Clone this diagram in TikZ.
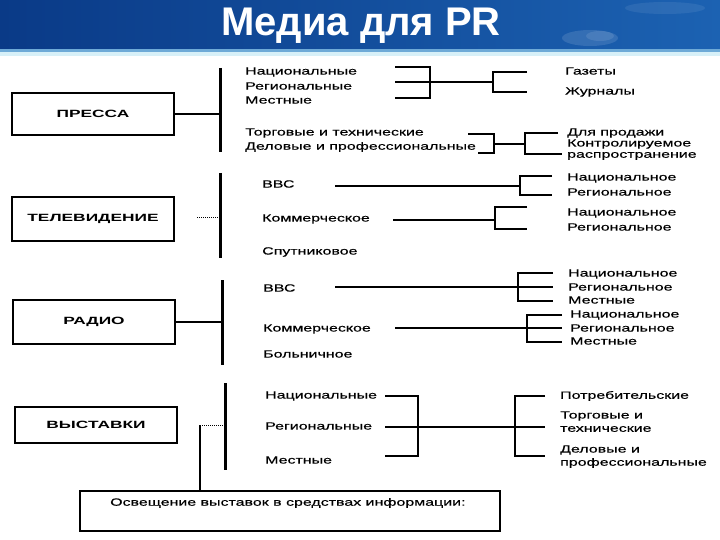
\documentclass[tikz,border=0pt]{standalone}
\usepackage{fontspec}
\setmainfont{Liberation Sans}
\newfontfamily\wf[FakeStretch=1.52,FakeBold=0.4]{Liberation Sans}
\newfontfamily\bwf[FakeStretch=1.65,UprightFont={* Bold}]{Liberation Sans}
\newfontfamily\ttlfont[UprightFont={* Bold}]{Liberation Sans}
\definecolor{bandL}{RGB}{10,58,135}
\definecolor{bandR}{RGB}{28,98,178}
\definecolor{bandLine}{RGB}{110,170,215}
\definecolor{paleCyan}{RGB}{215,240,248}
\tikzset{
  mid/.style={anchor=west, inner sep=0pt, font=\wf\fontsize{10.5}{12}\selectfont},
  sect/.style={draw, line width=1.3pt, minimum width=162pt, inner sep=0pt, font=\bwf\fontsize{10.5}{12}\selectfont},
  bar/.style={line width=3pt},
  ln/.style={line width=1.3pt},
  dotln/.style={line width=1pt, densely dotted}
}
\begin{document}
\begin{tikzpicture}[x=1pt,y=-1pt]
\useasboundingbox (0,0) rectangle (720,540);
\fill[white] (0,0) rectangle (720,540);
% banner
\shade[left color=bandL, right color=bandR] (0,0) rectangle (720,51);
\fill[white, opacity=0.12] (590,38) ellipse (28 and 8);
\fill[white, opacity=0.10] (600,36) ellipse (14 and 5);
\fill[white, opacity=0.08] (665,8) ellipse (40 and 6);
\fill[bandLine] (0,49) rectangle (720,52);
\fill[paleCyan] (0,52) rectangle (720,56);
\node[text=white, font=\ttlfont\fontsize{40}{42}\selectfont, inner sep=0pt] (title) at (361,26) {Медиа для PR};

% ---------- PRESS ----------
\node[sect, minimum height=42pt] (press) at (93,114) {ПРЕССА};
\coordinate (pb1) at (220,68); \coordinate (pb2) at (220,152);
\draw[bar] (pb1) -- (pb2);
\coordinate (pj) at (220,114);
\draw[ln] (press.east) -- (pj);
\node[mid] (p1) at (245,72) {Национальные};
\node[mid] (p2) at (245,86) {Региональные};
\node[mid] (p3) at (245,100) {Местные};
\node[mid] (p4) at (245,133) {Торговые и технические};
\node[mid] (p5) at (245,147) {Деловые и профессиональные};
\node[mid] (g1) at (565,71) {Газеты};
\node[mid] (g2) at (565,92) {Журналы};
\node[mid] (s1) at (567,133) {Для продажи};
\node[mid] (s2) at (567,144) {Контролируемое};
\node[mid] (s3) at (567,156) {распространение};
% group 1
\coordinate (a1) at (395,67); \coordinate (a2) at (395,82); \coordinate (a3) at (395,98);
\coordinate (A1) at (430,67); \coordinate (A2) at (430,82); \coordinate (A3) at (430,98);
\coordinate (B) at (493,82); \coordinate (B1) at (493,72); \coordinate (B2) at (493,92);
\coordinate (b1) at (527,72); \coordinate (b2) at (527,92);
\draw[ln] (a1) -- (A1) -- (A3) -- (a3);
\draw[ln] (a2) -- (A2) -- (B);
\draw[ln] (b1) -- (B1) -- (B2) -- (b2);
% group 2
\coordinate (c1) at (468,134); \coordinate (c2) at (478,153);
\coordinate (C1) at (494,134); \coordinate (C2) at (494,153); \coordinate (C) at (494,144);
\coordinate (D) at (525,144); \coordinate (D1) at (525,133); \coordinate (D2) at (525,154);
\coordinate (d1) at (558,133); \coordinate (d2) at (562,154);
\draw[ln] (c1) -- (C1) -- (C2) -- (c2);
\draw[ln] (C) -- (D);
\draw[ln] (d1) -- (D1) -- (D2) -- (d2);

% ---------- TV ----------
\node[sect, minimum height=44pt] (tv) at (93,219) {ТЕЛЕВИДЕНИЕ};
\coordinate (tb1) at (220,173); \coordinate (tb2) at (220,258);
\draw[bar] (tb1) -- (tb2);
\coordinate (tvd) at (197,218); \coordinate (tvj) at (220,218);
\draw[dotln] (tvd) -- (tvj);
\node[mid] (t1) at (262,184) {ВВС};
\node[mid] (t2) at (262,219) {Коммерческое};
\node[mid] (t3) at (262,252) {Спутниковое};
\node[mid] (tn1) at (567,178) {Национальное};
\node[mid] (tr1) at (567,192) {Региональное};
\node[mid] (tn2) at (567,213) {Национальное};
\node[mid] (tr2) at (567,227) {Региональное};
\coordinate (e1) at (335,186); \coordinate (E) at (520,186);
\coordinate (E1) at (520,176); \coordinate (E2) at (520,195);
\coordinate (e2) at (552,176); \coordinate (e3) at (552,195);
\draw[ln] (e1) -- (E);
\draw[ln] (e2) -- (E1) -- (E2) -- (e3);
\coordinate (f1) at (393,220); \coordinate (F) at (495,220);
\coordinate (F1) at (495,207); \coordinate (F2) at (495,229);
\coordinate (f2) at (527,207); \coordinate (f3) at (527,229);
\draw[ln] (f1) -- (F);
\draw[ln] (f2) -- (F1) -- (F2) -- (f3);

% ---------- RADIO ----------
\node[sect, minimum height=44pt] (radio) at (94,322) {РАДИО};
\coordinate (rb1) at (222,280); \coordinate (rb2) at (222,365);
\draw[bar] (rb1) -- (rb2);
\coordinate (rj) at (222,322);
\draw[ln] (radio.east) -- (rj);
\node[mid] (r1) at (263,288) {ВВС};
\node[mid] (r2) at (263,329) {Коммерческое};
\node[mid] (r3) at (263,354) {Больничное};
\node[mid] (rn1) at (568,274) {Национальное};
\node[mid] (rr1) at (568,287) {Региональное};
\node[mid] (rm1) at (568,300) {Местные};
\node[mid] (rn2) at (570,315) {Национальное};
\node[mid] (rr2) at (570,328) {Региональное};
\node[mid] (rm2) at (570,341) {Местные};
\coordinate (g1a) at (335,287); \coordinate (G) at (518,287);
\coordinate (G1) at (518,273); \coordinate (G3) at (518,301);
\coordinate (gg1) at (553,273); \coordinate (gg2) at (553,287); \coordinate (gg3) at (553,301);
\draw[ln] (g1a) -- (gg2);
\draw[ln] (gg1) -- (G1) -- (G3) -- (gg3);
\coordinate (h1) at (395,328); \coordinate (H) at (527,328);
\coordinate (H1) at (527,315); \coordinate (H3) at (527,342);
\coordinate (hh1) at (562,315); \coordinate (hh2) at (562,328); \coordinate (hh3) at (562,342);
\draw[ln] (h1) -- (hh2);
\draw[ln] (hh1) -- (H1) -- (H3) -- (hh3);

% ---------- EXHIBITIONS ----------
\node[sect, minimum height=36pt] (vyst) at (96,425) {ВЫСТАВКИ};
\coordinate (vb1) at (225,383); \coordinate (vb2) at (225,470);
\draw[bar] (vb1) -- (vb2);
\coordinate (vx) at (200,425); \coordinate (vj) at (225,425);
\draw[dotln] (vx) -- (vj);
\node[mid] (v1) at (265,396) {Национальные};
\node[mid] (v2) at (265,426) {Региональные};
\node[mid] (v3) at (265,460) {Местные};
\node[mid] (w1) at (560,396) {Потребительские};
\node[mid] (w2) at (560,416) {Торговые и};
\node[mid] (w3) at (560,429) {технические};
\node[mid] (w4) at (560,450) {Деловые и};
\node[mid] (w5) at (560,463) {профессиональные};
\coordinate (i1) at (385,396); \coordinate (i2) at (385,427); \coordinate (i3) at (385,456);
\coordinate (I1) at (418,396); \coordinate (I2) at (418,427); \coordinate (I3) at (418,456);
\coordinate (J) at (515,427); \coordinate (J1) at (515,396); \coordinate (J3) at (515,456);
\coordinate (j1) at (545,396); \coordinate (j2) at (545,427); \coordinate (j3) at (545,456);
\draw[ln] (i1) -- (I1) -- (I3) -- (i3);
\draw[ln] (i2) -- (j2);
\draw[ln] (j1) -- (J1) -- (J3) -- (j3);

% ---------- bottom box ----------
\node[draw, line width=1.2pt, minimum width=420pt, minimum height=40pt, inner sep=0pt] (cbox) at (290,511) {};
\node[mid, font=\wf\fontsize{10.5}{12}\selectfont] (ctext) at (110,503) {Освещение выставок в средствах информации:};
\draw[ln] (vx) -- (vx |- cbox.north);
\end{tikzpicture}
\end{document}
